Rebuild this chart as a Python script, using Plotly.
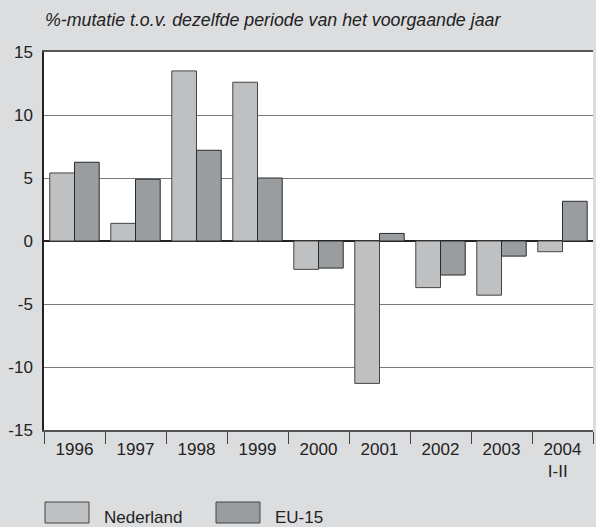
import plotly.graph_objects as go

categories = ["1996", "1997", "1998", "1999", "2000", "2001", "2002", "2003", "2004<br>I-II&nbsp;&nbsp;"]
nederland = [5.4, 1.4, 13.5, 12.6, -2.25, -11.3, -3.7, -4.3, -0.85]
eu15 = [6.25, 4.9, 7.2, 5.0, -2.15, 0.6, -2.7, -1.2, 3.15]
y_ticks = [-15, -10, -5, 0, 5, 10, 15]

W, H = 596, 527
L, R, T, B = 44, 3, 52, 97
pw, ph = W - L - R, H - T - B

def px_x(x):
    return (x - L) / pw

def px_y(y):
    return (H - B - y) / ph

FONT = "Liberation Sans, Arial, sans-serif"
fig = go.Figure()
fig.add_trace(go.Bar(x=categories, y=nederland, name="Nederland",
                     marker=dict(color="#bfc0c2", line=dict(color="#444444", width=1))))
fig.add_trace(go.Bar(x=categories, y=eu15, name="EU-15",
                     marker=dict(color="#9a9da0", line=dict(color="#2a2a2a", width=1))))

fig.update_layout(
    width=W, height=H,
    margin=dict(l=L, r=R, t=T, b=B),
    paper_bgcolor="#dcdddf",
    plot_bgcolor="#ffffff",
    barmode="group", bargap=0.19, bargroupgap=0,
    showlegend=False,
    font=dict(family=FONT, size=17, color="#222222"),
)
fig.update_xaxes(
    type="category", tickson="boundaries", ticks="outside", ticklen=12,
    tickcolor="#444444", tickwidth=1,
    showline=True, linecolor="#555555", linewidth=1.5, mirror=True,
    showgrid=False, tickfont=dict(size=17, color="#222222"), ticklabelstandoff=3,
)
fig.update_yaxes(
    range=[-15, 15], tickvals=y_ticks, ticktext=[str(v) for v in y_ticks],
    showgrid=True, gridcolor="#7a7a7a", gridwidth=1,
    zeroline=True, zerolinecolor="#222222", zerolinewidth=2,
    showline=True, linecolor="#222222", linewidth=1.5,
    ticks="", ticklabelstandoff=6, tickfont=dict(size=17, color="#222222"),
)

# title
fig.add_annotation(text="<i>%-mutatie t.o.v. dezelfde periode van het voorgaande jaar</i>",
                   xref="paper", yref="paper", x=px_x(43), y=px_y(20),
                   xanchor="left", yanchor="middle", showarrow=False,
                   font=dict(size=17.8, color="#222222", family=FONT))

# legend
legend_items = [("Nederland", "#bfc0c2", 45), ("EU-15", "#9a9da0", 216)]
for name, col, x0 in legend_items:
    fig.add_shape(type="rect", xref="paper", yref="paper",
                  x0=px_x(x0), x1=px_x(x0 + 44), y0=px_y(502), y1=px_y(523),
                  fillcolor=col, line=dict(color="#444444", width=1))
    fig.add_annotation(text=name, xref="paper", yref="paper",
                       x=px_x(x0 + 57), y=px_y(517), xanchor="left", yanchor="middle",
                       showarrow=False, font=dict(size=17, color="#222222", family=FONT))

fig.write_html("out.html", config={"displayModeBar": False},
               post_script="document.body.style.margin='0';document.body.style.overflow='hidden';")
